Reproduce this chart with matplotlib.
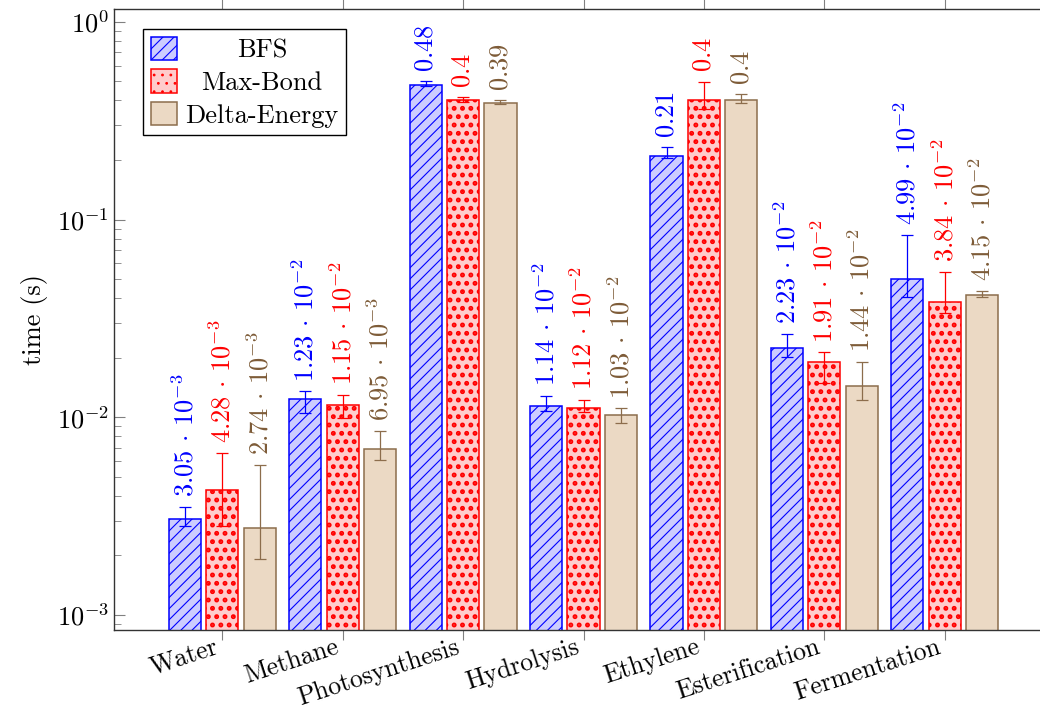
import numpy as np
import matplotlib
matplotlib.use("Agg")
import matplotlib.pyplot as plt
from matplotlib.transforms import Affine2D, ScaledTranslation

plt.rcParams["font.family"] = ["cmr10", "DejaVu Serif"]
plt.rcParams["mathtext.fontset"] = "cm"
plt.rcParams["axes.unicode_minus"] = False
plt.rcParams["axes.formatter.use_mathtext"] = True

categories = ["Water", "Methane", "Photosynthesis", "Hydrolysis", "Ethylene",
              "Esterification", "Fermentation"]
series = ["BFS", "Max-Bond", "Delta-Energy"]

bfs = [3.05e-3, 1.23e-2, 0.48, 1.14e-2, 0.21, 2.23e-2, 4.99e-2]
bfs_lo = [2.82e-3, 1.05e-2, 0.474, 1.08e-2, 0.205, 2.01e-2, 4.05e-2]
bfs_hi = [3.52e-3, 1.35e-2, 0.50, 1.28e-2, 0.232, 2.64e-2, 8.34e-2]

maxbond = [4.28e-3, 1.15e-2, 0.4, 1.12e-2, 0.4, 1.91e-2, 3.84e-2]
maxbond_lo = [2.82e-3, 9.93e-3, 0.394, 1.06e-2, 0.363, 1.49e-2, 3.36e-2]
maxbond_hi = [6.61e-3, 1.30e-2, 0.414, 1.22e-2, 0.498, 2.13e-2, 5.42e-2]

delta = [2.74e-3, 6.95e-3, 0.39, 1.03e-2, 0.4, 1.44e-2, 4.15e-2]
delta_lo = [1.92e-3, 6.09e-3, 0.383, 9.4e-3, 0.39, 1.22e-2, 4.05e-2]
delta_hi = [5.74e-3, 8.53e-3, 0.400, 1.11e-2, 0.429, 1.90e-2, 4.36e-2]

FS = 19


def fmt(v):
    if v >= 0.1:
        return f"${v:g}$"
    e = int(np.floor(np.log10(v)))
    m = v / 10 ** e
    return f"${m:.2f}\\,\\cdot\\,10^{{{e}}}$"


styles = [
    dict(fc="#ccccff", ec="blue", hatch="///", hlw=0.8, tc="blue"),
    dict(fc="#ffcccc", ec="red", hatch="..", hlw=2.3, tc="red"),
    dict(fc="#ebd9c4", ec="#8c6d4c", hatch=None, hlw=0.8, tc="#7d5b37"),
]
data = [(bfs, bfs_lo, bfs_hi), (maxbond, maxbond_lo, maxbond_hi),
        (delta, delta_lo, delta_hi)]

fig = plt.figure(figsize=(10.4, 7.1), dpi=100)
ax = fig.add_axes([114 / 1040, 1 - 630 / 710, 939 / 1040, 621 / 710])

x = np.arange(len(categories))
width = 0.267
offs = [-0.31, 0.0, 0.31]
for (vals, lo, hi), st, off, name in zip(data, styles, offs, series):
    vals = np.array(vals)
    plt.rcParams["hatch.linewidth"] = st["hlw"]
    ax.bar(x + off, vals, width, facecolor=st["fc"], edgecolor=st["ec"],
           hatch=st["hatch"], linewidth=1.1, label=name, zorder=2)
    yerr = [vals - np.array(lo), np.array(hi) - vals]
    ax.errorbar(x + off, vals, yerr=yerr, fmt="none", ecolor=st["ec"],
                elinewidth=0.9, capsize=4, capthick=0.9, zorder=3)
    for xi, v, h in zip(x + off, vals, hi):
        ax.annotate(fmt(v), (xi, h), xytext=(0, 7), textcoords="offset points",
                    rotation=90, ha="center", va="bottom", fontsize=FS,
                    color=st["tc"])

ax.set_yscale("log")
ax.set_ylim(8.4e-4, 1.16)
ax.set_xlim(-0.9, 6.9)
ax.set_xticks(x)
ax.set_xticklabels(categories, rotation=18, ha="right", va="top",
                   rotation_mode="anchor", fontsize=18.5)
ax.tick_params(axis="x", direction="out", length=7, color="#808080",
               top=True, labeltop=False, pad=0)
ax.tick_params(axis="y", which="major", direction="in", length=8,
               color="#808080", labelsize=FS)
ax.tick_params(axis="y", which="minor", direction="in", length=5,
               color="#808080")
ax.set_ylabel("time (s)", fontsize=FS, labelpad=6)
for s in ax.spines.values():
    s.set_linewidth(1.0)
    s.set_color("#333333")

shift = ScaledTranslation(-6 / 72, 3.5 / 72, fig.dpi_scale_trans)
for lbl in ax.get_xticklabels():
    lbl.set_transform(lbl.get_transform() + shift)

leg = ax.legend(loc="upper left", bbox_to_anchor=(0.031, 0.968), fontsize=FS,
                fancybox=False, framealpha=1, edgecolor="black",
                handlelength=1.0, handleheight=1.0, handletextpad=0.3,
                borderpad=0.3, labelspacing=0.25, borderaxespad=0)
leg.get_frame().set_linewidth(1.0)

# center legend texts in their column
r = fig.canvas.get_renderer()
texts = leg.get_texts()
ws = [t.get_window_extent(r).width for t in texts]
wmax = max(ws)
for t, w in zip(texts, ws):
    t.set_transform(t.get_transform() + Affine2D().translate((wmax - w) / 2, 0))

fig.savefig("out.png", dpi=100)
